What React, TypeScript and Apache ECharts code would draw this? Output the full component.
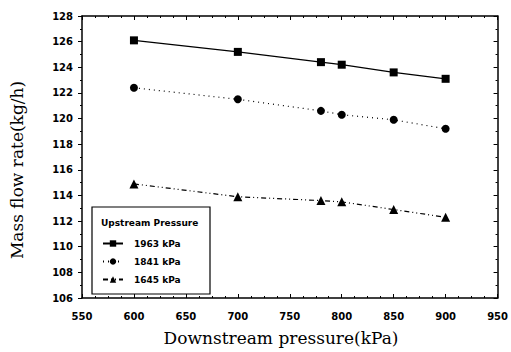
import React, { useEffect, useRef } from "react";
import * as echarts from "echarts";

// Downstream pressure (kPa) at each measurement
const downstream = [600, 700, 780, 800, 850, 900];

// Mass flow rate (kg/h) per upstream pressure
const flow1963 = [126.1, 125.2, 124.4, 124.2, 123.6, 123.1];
const flow1841 = [122.4, 121.5, 120.6, 120.3, 119.9, 119.2];
const flow1645 = [114.9, 113.9, 113.6, 113.5, 112.9, 112.3];

const seriesNames = ["1963 kPa", "1841 kPa", "1645 kPa"];

const tickFont = "DejaVu Sans";
const titleFont = "DejaVu Serif";

export default function App() {
  const ref = useRef<HTMLDivElement>(null);

  useEffect(() => {
    if (!ref.current) return;
    const chart = echarts.init(ref.current, undefined, { renderer: "svg" });

    const pairs = (ys: number[]) => downstream.map((x, i) => [x, ys[i]]);
    const axisLine = { show: true, lineStyle: { color: "#000", width: 1.5 } };
    const labelStyle = {
      color: "#000",
      fontFamily: tickFont,
      fontWeight: "bold" as const,
      fontSize: 10,
    };

    chart.setOption({
      animation: false,
      backgroundColor: "#fff",
      grid: { left: 82, right: 10, top: 16, bottom: 54 },
      xAxis: [
        {
          type: "value",
          position: "bottom",
          min: 550,
          max: 950,
          interval: 50,
          axisLine,
          axisTick: { inside: true, length: 4, lineStyle: { color: "#000" } },
          minorTick: { show: true, splitNumber: 4, length: 2, lineStyle: { color: "#000" } },
          splitLine: { show: false },
          axisLabel: { ...labelStyle, margin: 13 },
        },
        {
          type: "value",
          position: "top",
          min: 550,
          max: 950,
          interval: 50,
          axisLine,
          axisTick: { inside: true, length: 4, lineStyle: { color: "#000" } },
          minorTick: { show: true, splitNumber: 4, length: 2, lineStyle: { color: "#000" } },
          splitLine: { show: false },
          axisLabel: { show: false },
        },
      ],
      yAxis: [
        {
          type: "value",
          position: "left",
          min: 106,
          max: 128,
          interval: 2,
          axisLine,
          axisTick: { inside: false, length: 4, lineStyle: { color: "#000" } },
          minorTick: { show: true, splitNumber: 2, length: 2, lineStyle: { color: "#000" } },
          splitLine: { show: false },
          axisLabel: { ...labelStyle, margin: 9 },
        },
        {
          type: "value",
          position: "right",
          min: 106,
          max: 128,
          interval: 2,
          axisLine,
          axisTick: { inside: true, length: 4, lineStyle: { color: "#000" } },
          minorTick: { show: true, splitNumber: 2, length: 2, lineStyle: { color: "#000" } },
          splitLine: { show: false },
          axisLabel: { show: false },
        },
      ],
      legend: {
        left: 97,
        top: 234,
        orient: "vertical",
        itemWidth: 20,
        itemHeight: 8,
        itemGap: 9,
        z: 20,
        data: seriesNames,
        textStyle: {
          color: "#000",
          fontFamily: tickFont,
          fontWeight: "bold",
          fontSize: 9,
          padding: [0, 0, 0, 6],
        },
      },
      graphic: [
        {
          type: "rect",
          shape: { x: 92, y: 207, width: 118, height: 87 },
          style: { fill: "#fff", stroke: "#000", lineWidth: 1.2 },
          z: 5,
        },
        {
          type: "text",
          x: 101,
          y: 223,
          style: {
            text: "Upstream Pressure",
            fill: "#000",
            font: `bold 9px "${tickFont}"`,
            verticalAlign: "middle",
          },
          z: 6,
        },
        {
          type: "text",
          x: 281,
          y: 338,
          style: {
            text: "Downstream pressure(kPa)",
            fill: "#000",
            font: `17px "${titleFont}"`,
            align: "center",
            verticalAlign: "middle",
          },
        },
        {
          type: "text",
          x: 17,
          y: 170,
          rotation: Math.PI / 2,
          style: {
            text: "Mass flow rate(kg/h)",
            fill: "#000",
            font: `17px "${titleFont}"`,
            align: "center",
            verticalAlign: "middle",
          },
        },
      ],
      series: [
        {
          name: seriesNames[0],
          type: "line",
          data: pairs(flow1963),
          symbol: "rect",
          symbolSize: 8,
          itemStyle: { color: "#000" },
          lineStyle: { color: "#000", width: 1.3, type: "solid" },
          z: 10,
        },
        {
          name: seriesNames[1],
          type: "line",
          data: pairs(flow1841),
          symbol: "circle",
          symbolSize: 8,
          itemStyle: { color: "#000" },
          lineStyle: { color: "#000", width: 1.2, type: [1, 4] },
          z: 10,
        },
        {
          name: seriesNames[2],
          type: "line",
          data: pairs(flow1645),
          symbol: "triangle",
          symbolSize: 9,
          itemStyle: { color: "#000" },
          lineStyle: { color: "#000", width: 1.2, type: [5, 3, 1, 3, 1, 3] },
          z: 10,
        },
      ],
    });

    return () => chart.dispose();
  }, []);

  return (
    <div
      ref={ref}
      style={{ position: "fixed", left: 0, top: 0, width: 511, height: 352 }}
    />
  );
}
